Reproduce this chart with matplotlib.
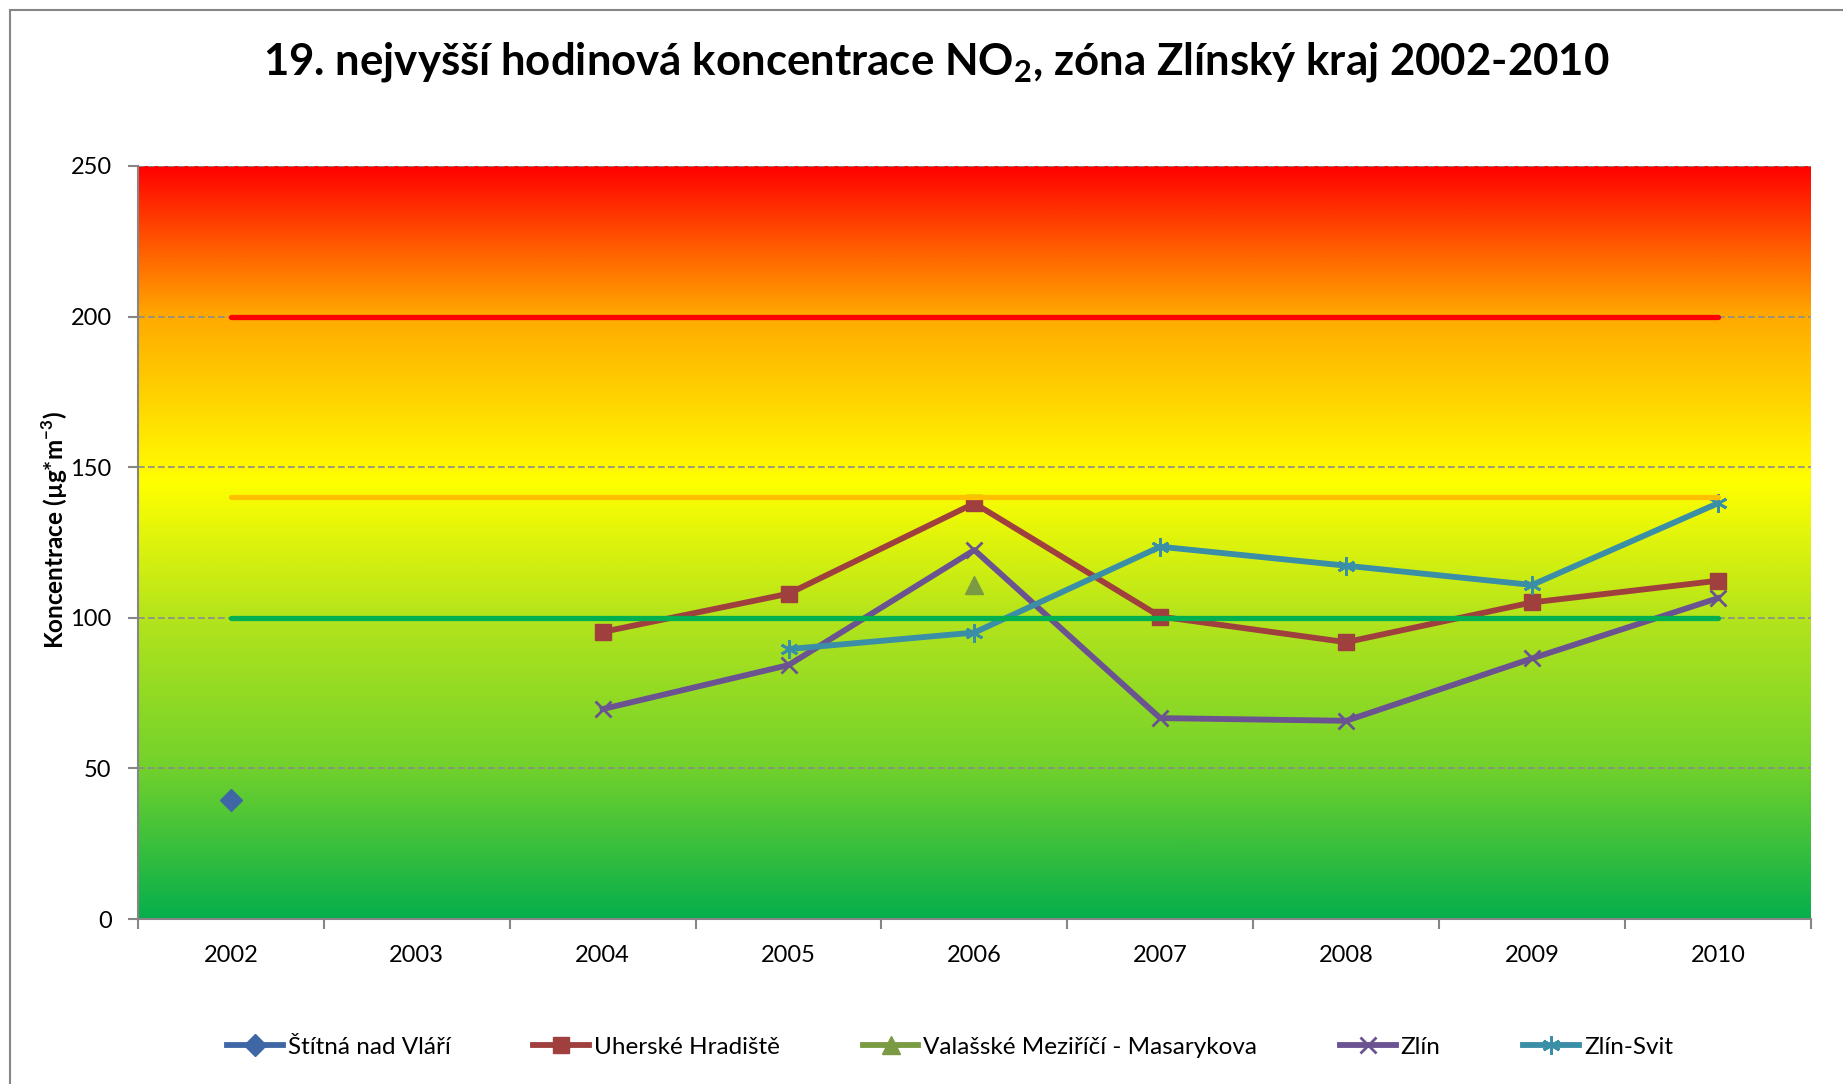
import numpy as np
import matplotlib
matplotlib.use("Agg")
import matplotlib.pyplot as plt
from matplotlib.colors import LinearSegmentedColormap
from matplotlib.patches import Rectangle

plt.rcParams['font.family'] = ['Lato', 'DejaVu Sans']
plt.rcParams['mathtext.fontset'] = 'custom'
plt.rcParams['mathtext.rm'] = 'Lato'
plt.rcParams['mathtext.bf'] = 'Lato:bold'

# data
years = ['2002', '2003', '2004', '2005', '2006', '2007', '2008', '2009', '2010']
stitna = [39.5, None, None, None, None, None, None, None, None]
uh_hradiste = [None, None, 95.3, 108.0, 138.0, 100.4, 91.9, 105.1, 112.3]
val_mezirici = [None, None, None, None, 111.0, None, None, None, None]
zlin = [None, None, 69.7, 84.3, 122.5, 66.7, 65.8, 86.5, 106.5]
zlin_svit = [None, None, None, 89.6, 95.1, 123.6, 117.3, 110.9, 138.0]

limit_red = 200
limit_orange = 140
limit_green = 100

def arr(v):
    return np.array([np.nan if a is None else a for a in v], dtype=float)

x = np.arange(len(years))

fig = plt.figure(figsize=(18.43, 10.84), dpi=100)
ax = fig.add_axes([0.0749, 0.1522, 0.9076, 0.6947])

# gradient background
cmap = LinearSegmentedColormap.from_list('bg', [
    (0.0, '#06AF4C'),
    (0.2, '#72D12C'),
    (0.4, '#B4E41C'),
    (0.58, '#FFFF00'),
    (0.8, '#FFAA00'),
    (1.0, '#FF0000')])
grad = np.linspace(0, 1, 512).reshape(-1, 1)
ax.imshow(grad, cmap=cmap, origin='lower', aspect='auto',
          extent=[-0.5, 8.5, 0, 250], zorder=0)

ax.set_xlim(-0.5, 8.5)
ax.set_ylim(0, 250)

for yv in [50, 100, 150, 200, 250]:
    ax.axhline(yv, color='#8C8C8C', lw=1.2, ls=(0, (4, 2)), zorder=1)

ax.plot(x, arr(uh_hradiste), color='#A0403E', lw=4.2, marker='s', ms=12,
        mec='#A0403E', zorder=3, label='Uherské Hradiště')
ax.plot(x, arr(val_mezirici), color='#7B9A44', lw=4.2, marker='^', ms=13,
        mec='#7B9A44', zorder=3, label='Valašské Meziříčí - Masarykova')
ax.plot(x, arr(zlin), color='#6B5290', lw=4.2, marker='x', ms=12, mew=2,
        zorder=3, label='Zlín')
ax.plot(x, arr(zlin_svit), color='#3A8EA6', lw=4.2, marker=(6, 2, 0), ms=13, mew=2,
        zorder=3, label='Zlín-Svit')
ax.plot(x, arr(stitna), color='#3F67A6', lw=4.2, marker='D', ms=11,
        mec='#3F67A6', zorder=3, label='Štítná nad Vláří')

# limit lines
ax.plot([x[0], x[-1]], [limit_red] * 2, color='#FF0000', lw=3.8,
        solid_capstyle='round', zorder=4)
ax.plot([x[0], x[-1]], [limit_orange] * 2, color='#FFC000', lw=3.8,
        solid_capstyle='round', zorder=4)
ax.plot([x[0], x[-1]], [limit_green] * 2, color='#00B050', lw=3.8,
        solid_capstyle='round', zorder=4)

for s in ['top', 'right']:
    ax.spines[s].set_visible(False)
for s in ['left', 'bottom']:
    ax.spines[s].set_color('#868686')
    ax.spines[s].set_linewidth(1.5)

ax.set_xticks(x)
ax.set_xticklabels(years, fontsize=17)
ax.set_xticks(np.arange(-0.5, 9, 1), minor=True)
ax.tick_params(axis='x', which='major', length=0, pad=19)
ax.tick_params(axis='x', which='minor', length=7, width=1.5, color='#868686')
ax.set_yticks([0, 50, 100, 150, 200, 250])
ax.tick_params(axis='y', length=7, width=1.5, color='#868686', labelsize=17, pad=12)

fig.text(0.508, 0.943,
         '19. nejvyšší hodinová koncentrace NO$_\\mathbf{2}$, zóna Zlínský kraj 2002-2010',
         ha='center', va='center', fontsize=31.5, fontweight='bold')
fig.text(0.03, 0.511, 'Koncentrace (µg*m$^{\\mathbf{-3}}$)', rotation=90,
         ha='center', va='center', fontsize=17.5, fontweight='bold')

handles, labels = ax.get_legend_handles_labels()
order = [4, 0, 1, 2, 3]
fig.legend([handles[i] for i in order], [labels[i] for i in order],
           loc='center', bbox_to_anchor=(0.5155, 0.034), ncol=5, frameon=False,
           fontsize=17.5, handlelength=2.3, handletextpad=0.2, columnspacing=3.4)

# chart border
fig.add_artist(Rectangle((10 / 1843, -0.1), 1.2, 1.1 - 10 / 1084,
                         transform=fig.transFigure, fill=False,
                         edgecolor='#868686', lw=1.5))

fig.savefig('out.png', dpi=100)
